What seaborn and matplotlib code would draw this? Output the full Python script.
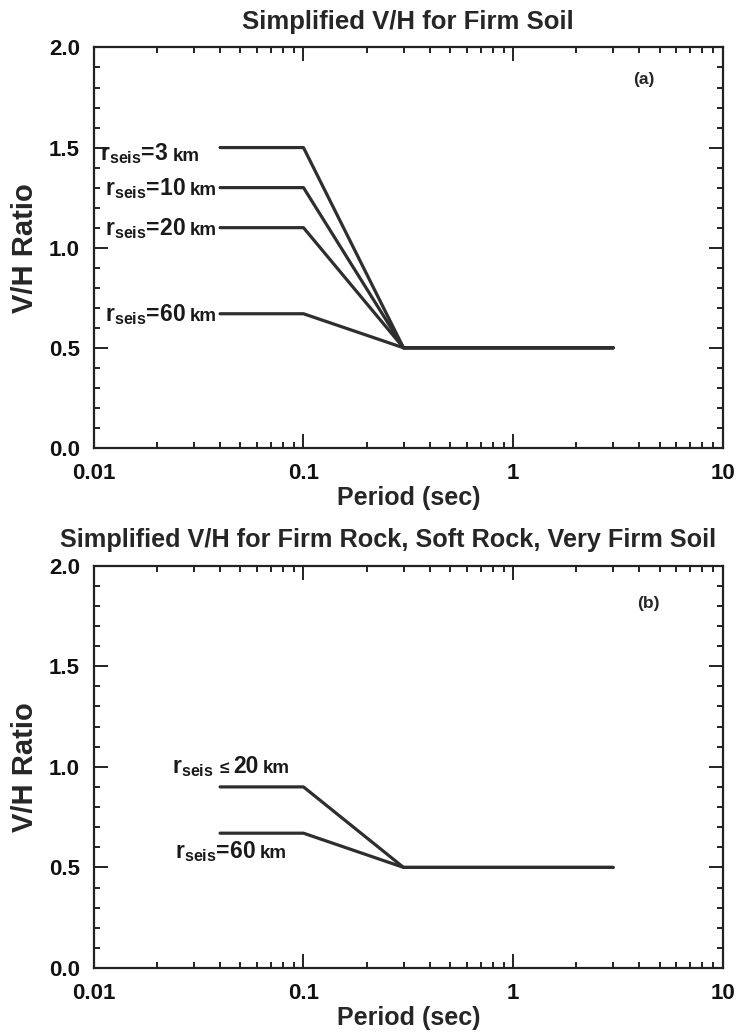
import seaborn as sns
import matplotlib.pyplot as plt
import pandas as pd
from matplotlib.ticker import LogLocator, MultipleLocator, FixedLocator, FixedFormatter

# period breakpoints (sec)
periods = [0.04, 0.1, 0.3, 3.0]

# panel (a) firm soil, one curve per r_seis
soil_labels = ['3', '10', '20', '60']
soil_vh = [
    [1.5, 1.5, 0.5, 0.5],
    [1.3, 1.3, 0.5, 0.5],
    [1.1, 1.1, 0.5, 0.5],
    [0.67, 0.67, 0.5, 0.5],
]

# panel (b) firm rock, soft rock, very firm soil
rock_labels = ['<=20', '60']
rock_vh = [
    [0.9, 0.9, 0.5, 0.5],
    [0.67, 0.67, 0.5, 0.5],
]

xticks = [0.01, 0.1, 1, 10]
xticklabels = ['0.01', '0.1', '1', '10']

sns.set_style('ticks')
plt.rcParams['font.family'] = ['Liberation Sans', 'DejaVu Sans']
plt.rcParams['font.weight'] = 'bold'
plt.rcParams['mathtext.fontset'] = 'custom'
plt.rcParams['mathtext.rm'] = 'Liberation Sans:bold'
plt.rcParams['mathtext.bf'] = 'Liberation Sans:bold'

line_color = '#2e2e2e'
text_color = '#1a1a1a'


def make_df(labels, values):
    rows = []
    for lab, vals in zip(labels, values):
        for p, v in zip(periods, vals):
            rows.append({'period': p, 'vh': v, 'r': lab})
    return pd.DataFrame(rows)


def style_axis(ax, title, title_size=18.5, title_x=0.5):
    ax.set_xscale('log')
    ax.set_xlim(0.01, 10)
    ax.set_ylim(0, 2)
    ax.xaxis.set_major_locator(FixedLocator(xticks))
    ax.xaxis.set_major_formatter(FixedFormatter(xticklabels))
    ax.xaxis.set_minor_locator(LogLocator(base=10, subs=range(2, 10)))
    ax.yaxis.set_major_locator(MultipleLocator(0.5))
    ax.yaxis.set_minor_locator(MultipleLocator(0.1))
    ax.tick_params(which='both', direction='in', top=True, right=True,
                   width=1.4, colors='#222222', labelcolor='#111111')
    ax.tick_params(which='major', length=10, labelsize=16)
    ax.tick_params(which='minor', length=4.5)
    ax.tick_params(axis='x', which='major', pad=11)
    ax.tick_params(axis='y', which='major', pad=10)
    for lab in ax.get_xticklabels() + ax.get_yticklabels():
        lab.set_fontweight('bold')
    for s in ax.spines.values():
        s.set_linewidth(1.6)
        s.set_color('#222222')
    ax.set_xlabel('Period (sec)', fontsize=18, fontweight='bold', va='top')
    ax.xaxis.set_label_coords(0.5, -0.095)
    ax.set_ylabel('V/H Ratio', fontsize=21, fontweight='bold')
    ax.yaxis.set_label_coords(-0.088, 0.5)
    ax.set_title(title, fontsize=title_size, fontweight='bold', pad=13, x=title_x)
    leg = ax.get_legend()
    if leg is not None:
        leg.remove()


def chain_text(ax, x, y, pieces):
    # pieces: list of (string, fontsize, gap in points); baselines aligned at data y
    first, size, _ = pieces[0]
    prev = ax.text(x, y, first, fontsize=size, fontweight='bold', ha='left',
                   va='baseline', color=text_color)
    for s, size, gap in pieces[1:]:
        prev = ax.annotate(s, xy=(1, y), xycoords=(prev, 'data'), xytext=(gap, 0),
                           textcoords='offset points', fontsize=size,
                           fontweight='bold', ha='left', va='baseline', color=text_color)


fig = plt.figure(figsize=(7.39, 10.32), dpi=100)
ax1 = fig.add_axes([0.127, 0.566, 0.851, 0.388])
ax2 = fig.add_axes([0.127, 0.062, 0.851, 0.390])

df_soil = make_df(soil_labels, soil_vh)
sns.lineplot(data=df_soil, x='period', y='vh', units='r', estimator=None,
             color=line_color, linewidth=2.3, ax=ax1)
style_axis(ax1, 'Simplified V/H for Firm Soil')

for lab, vals in zip(soil_labels, soil_vh):
    x0 = 0.01068 if lab == '3' else 0.01128
    dy = 0.065 if lab == '3' else 0.035
    chain_text(ax1, x0, vals[0] - dy,
               [(r'r$_{\mathrm{seis}}$=' + lab, 16.5, 0), ('km', 13.5, 3)])
ax1.text(4.2, 1.84, '(a)', fontsize=12.5, fontweight='bold', ha='center', va='center')

df_rock = make_df(rock_labels, rock_vh)
sns.lineplot(data=df_rock, x='period', y='vh', units='r', estimator=None,
             color=line_color, linewidth=2.3, ax=ax2)
style_axis(ax2, 'Simplified V/H for Firm Rock, Soft Rock, Very Firm Soil',
           title_size=18.2, title_x=0.468)

chain_text(ax2, 0.0236, 0.97,
           [(r'r$_{\mathrm{seis}}$', 16.5, 0), ('\u2264', 12.5, 4),
            ('20', 16.5, 3), ('km', 13.5, 3)])
chain_text(ax2, 0.0243, 0.546,
           [(r'r$_{\mathrm{seis}}$=60', 16.5, 0), ('km', 13.5, 3)])
ax2.text(4.4, 1.81, '(b)', fontsize=12.5, fontweight='bold', ha='center', va='center')

fig.savefig('out.png', dpi=100)
